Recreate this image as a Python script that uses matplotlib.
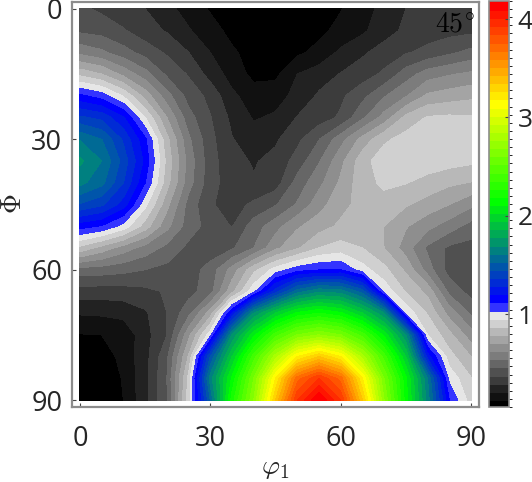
import numpy as np
import matplotlib
matplotlib.use('Agg')
import matplotlib.pyplot as plt
from matplotlib.colors import ListedColormap, BoundaryNorm

plt.rcParams['font.family'] = ['Open Sans', 'DejaVu Sans']
plt.rcParams['mathtext.fontset'] = 'cm'

phi1 = np.arange(0, 95, 5)
Phi = np.arange(0, 95, 5)

# one row per Phi
odf = np.array([
    [.401, .368, .327, .302, .244, .186, .128, .095, .071, .054, .062, .087, .132, .186, .244, .302, .318, .335, .343],
    [.450, .434, .393, .335, .294, .227, .170, .112, .079, .062, .079, .116, .161, .203, .269, .318, .343, .355, .364],
    [.607, .566, .500, .434, .372, .302, .219, .149, .104, .095, .120, .161, .236, .289, .335, .376, .409, .450, .492],
    [.855, .797, .690, .583, .450, .376, .269, .186, .112, .116, .219, .261, .306, .343, .401, .508, .591, .624, .649],
    [1.144, 1.087, .954, .764, .583, .434, .360, .236, .178, .186, .244, .314, .368, .442, .541, .624, .731, .756, .777],
    [1.392, 1.351, 1.219, .963, .715, .500, .389, .281, .211, .232, .306, .343, .397, .533, .665, .822, .888, .897, .888],
    [1.615, 1.541, 1.359, 1.144, .822, .566, .409, .306, .261, .289, .364, .463, .599, .744, .863, .913, .930, .930, .921],
    [1.723, 1.623, 1.425, 1.186, .855, .599, .417, .327, .294, .327, .417, .541, .690, .847, .930, .942, .930, .913, .897],
    [1.648, 1.566, 1.376, 1.128, .830, .583, .417, .339, .310, .343, .500, .607, .731, .847, .897, .884, .847, .814, .793],
    [1.450, 1.392, 1.252, .987, .740, .517, .393, .351, .401, .459, .558, .682, .768, .830, .847, .806, .764, .715, .653],
    [1.161, 1.120, 1.012, .839, .657, .508, .434, .380, .508, .599, .702, .760, .814, .847, .797, .723, .657, .591, .517],
    [.855, .764, .674, .599, .525, .446, .417, .455, .550, .694, .785, .880, .913, .880, .797, .674, .533, .450, .434],
    [.517, .508, .492, .467, .442, .426, .500, .665, .855, .996, 1.087, 1.120, 1.128, .996, .905, .781, .591, .430, .417],
    [.343, .343, .347, .364, .393, .434, .517, .773, 1.020, 1.334, 1.582, 1.689, 1.665, 1.500, 1.020, .872, .773, .525, .434],
    [.227, .232, .244, .289, .384, .525, .756, 1.210, 1.706, 1.954, 2.136, 2.202, 2.136, 1.954, 1.706, 1.020, .872, .682, .537],
    [.132, .137, .161, .269, .384, .690, 1.012, 1.706, 2.094, 2.408, 2.615, 2.697, 2.615, 2.408, 2.094, 1.706, .963, .822, .669],
    [.079, .087, .166, .269, .450, .806, 1.458, 1.954, 2.408, 2.821, 3.193, 3.358, 3.193, 2.821, 2.408, 1.954, 1.252, .913, .797],
    [.058, .062, .145, .277, .467, .905, 1.665, 2.136, 2.615, 3.193, 3.730, 3.936, 3.730, 3.193, 2.615, 2.136, 1.623, 1.020, .884],
    [.054, .058, .137, .277, .459, .921, 1.541, 2.243, 2.697, 3.358, 3.936, 4.184, 3.936, 3.358, 2.697, 2.160, 1.665, 1.128, .921],
])

levels = np.linspace(odf.min(), odf.max(), 51)

# 12 greys, then light blue and blue-green-yellow-red
greys = np.array([0, 17, 34, 60, 80, 102, 124, 142, 164, 184, 208, 230]) / 255
cols = [(g, g, g) for g in greys]
cols.append((0.2, 0.2, 1.0))
for t in np.linspace(0, 1, 13)[:-1]:
    cols.append((0, t, 1 - t))
for t in np.linspace(0, 1, 13)[:-1]:
    cols.append((t, 1, 0))
for t in np.linspace(0, 1, 13):
    cols.append((1, 1 - t, 0))
cmap = ListedColormap(cols)
norm = BoundaryNorm(levels, cmap.N)

W, H = 532, 482
fig = plt.figure(figsize=(W / 100, H / 100), dpi=100)
ax = fig.add_axes([72 / W, 1 - 407 / H, 407 / W, 405.5 / H])
cf = ax.contourf(phi1, Phi, odf, levels=levels, cmap=cmap, norm=norm)
ax.set_xlim(-1.84, 91.84)
ax.set_ylim(91.6, -1.7)
ax.set_xticks([0, 30, 60, 90])
ax.set_yticks([0, 30, 60, 90])
ax.tick_params(direction='in', length=3, width=0.8, color='#444444', labelsize=19.5,
               labelcolor='#262626')
ax.tick_params(axis='x', pad=13)
ax.tick_params(axis='y', pad=7)
ax.set_xlabel(r'$\varphi_1$', fontsize=20, labelpad=0, color='#262626')
ax.set_ylabel(r'$\Phi$', fontsize=20, labelpad=2, color='#262626')
for s in ax.spines.values():
    s.set_color('#8c8c8c')
    s.set_linewidth(1.6)
ax.text(90.8, 0.4, r'$45^{\circ}$', fontsize=20, ha='right', va='top', color='black')

cax = fig.add_axes([489 / W, 1 - 407 / H, 20 / W, 406 / H])
cb = fig.colorbar(cf, cax=cax, ticks=[1, 2, 3, 4])
cb.solids.set_edgecolor('face')
cax.tick_params(direction='in', length=3, width=0.8, color='#444444', labelsize=19,
                labelcolor='#262626', pad=6)
cb.outline.set_edgecolor('#8c8c8c')
cb.outline.set_linewidth(1.2)

fig.savefig('out.png', dpi=100)
